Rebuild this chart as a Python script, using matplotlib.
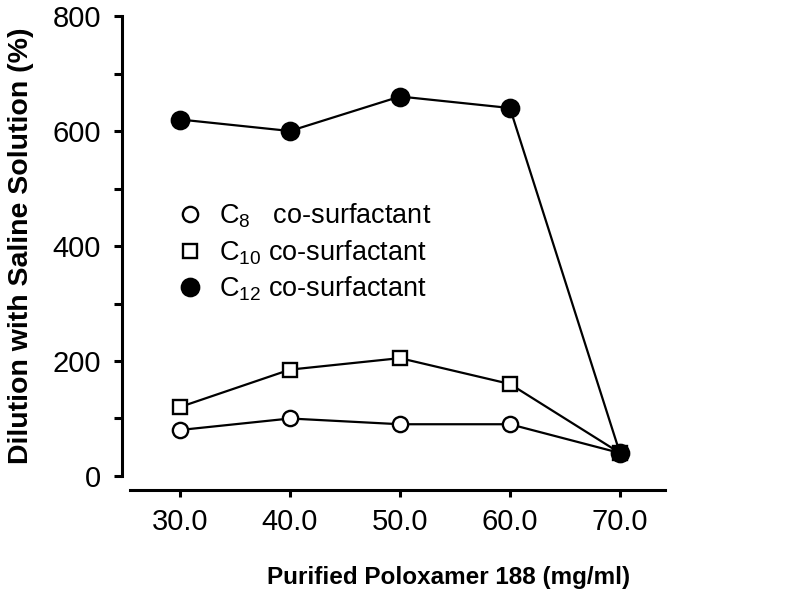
import matplotlib.pyplot as plt
import numpy as np

plt.rcParams['font.family'] = ['Liberation Sans', 'DejaVu Sans']
plt.rcParams['mathtext.fontset'] = 'custom'
plt.rcParams['mathtext.rm'] = 'Liberation Sans'

# data
conc = [30.0, 40.0, 50.0, 60.0, 70.0]
c8 = [80, 100, 90, 90, 40]
c10 = [120, 185, 205, 160, 40]
c12 = [620, 600, 660, 640, 40]
labels = [r'C$_{8}$   co-surfactant', r'C$_{10}$ co-surfactant', r'C$_{12}$ co-surfactant']

fig = plt.figure(figsize=(8, 5.91), dpi=100)
ax = fig.add_axes([0.1625, 0.1946, 0.66875, 0.7783])

line = dict(color='black', linewidth=1.6, markeredgewidth=1.7,
            markeredgecolor='black', clip_on=False)
ax.plot(conc, c8, marker='o', markersize=11, markerfacecolor='white', label=labels[0], **line)
ax.plot(conc, c10, marker='s', markersize=10, markerfacecolor='white', label=labels[1], **line)
ax.plot(conc, c12, marker='o', markersize=12.5, markerfacecolor='black', label=labels[2], **line)

ax.set_xlim(25.45, 74.1)
ax.set_ylim(0, 800)
ax.set_xticks(conc)
ax.set_xticklabels(['%.1f' % c for c in conc])
ax.set_yticks(np.arange(0, 801, 200))
ax.set_yticks(np.arange(100, 800, 200), minor=True)

for s in ['top', 'right']:
    ax.spines[s].set_visible(False)
ax.spines['left'].set_position(('outward', 6))
ax.spines['bottom'].set_position(('outward', 10))
ax.spines['left'].set_linewidth(2.2)
ax.spines['bottom'].set_linewidth(2.2)
ax.tick_params(which='both', direction='out', width=2.2)
ax.tick_params(axis='y', which='both', length=6, labelsize=21, pad=9)
ax.tick_params(axis='x', length=5, labelsize=21, pad=8)

ax.set_xlabel('Purified Poloxamer 188 (mg/ml)', fontsize=17.5, fontweight='bold')
ax.set_ylabel('Dilution with Saline Solution (%)', fontsize=20.5, fontweight='bold')
ax.xaxis.set_label_coords(0.596, -0.195)
ax.yaxis.set_label_coords(-0.18, 0.5)

leg = ax.legend(loc='upper left', bbox_to_anchor=(0.071, 0.62), frameon=False,
                borderaxespad=0, fontsize=19.5, handlelength=0.8, handletextpad=0.7,
                labelspacing=0.3)
for h in leg.legend_handles:
    h.set_linestyle('None')

fig.savefig('out.png', dpi=100)
